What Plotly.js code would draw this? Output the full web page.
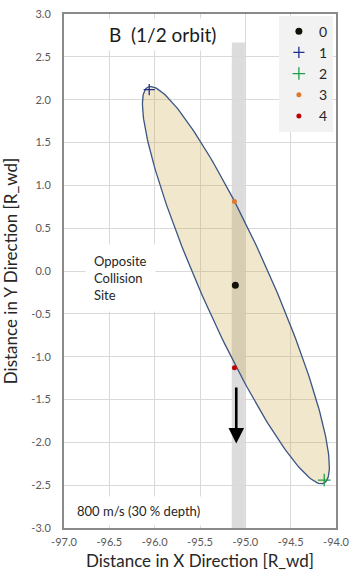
<!DOCTYPE html>
<html>
<head>
<meta charset="utf-8">
<script src="https://cdn.plot.ly/plotly-3.0.1.min.js"></script>
<style>html,body{margin:0;padding:0;background:#fff;}#chart{width:354px;height:585px;}</style>
</head>
<body>
<div id="chart"></div>
<script>
// ---- data ----
const pointNames = ['0', '1', '2', '3', '4'];
const pointX = [-95.11, -96.06, -94.13, -95.12, -95.12];
const pointY = [-0.165, 2.118, -2.44, 0.81, -1.13];
const pointColors = ['#141208', '#1f2f8f', '#1e9e4a', '#dd7a30', '#c00000'];
const pointSymbols = ['circle', 'cross-thin-open', 'cross-thin-open', 'circle', 'circle'];
const pointSizes = [7, 8, 9, 5, 5];

// dispersion ellipse (centre, semi-axes, orientation)
const ellipseCenter = [-95.104, -0.165];
const ellipseSemiAxes = [2.507, 0.389];
const ellipseAngleDeg = 112.67;

// collision band
const bandX = [-95.15, -95.005];
const bandY = [2.667, -3.0];

// arrow (tail -> tip)
const arrowX = [-95.10, -95.10];
const arrowY = [-1.343, -2.015];

const xTickVals = [-97.0, -96.5, -96.0, -95.5, -95.0, -94.5, -94.0];
const xTickText = ['-97.0', '-96.5', '-96.0', '-95.5', '-95.0', '-94.5', '-94.0'];
const yTickVals = [-3.0, -2.5, -2.0, -1.5, -1.0, -0.5, 0.0, 0.5, 1.0, 1.5, 2.0, 2.5, 3.0];
const yTickText = ['-3.0', '-2.5', '-2.0', '-1.5', '-1.0', '-0.5', '0.0', '0.5', '1.0', '1.5', '2.0', '2.5', '3.0'];

const titleText = 'B  (1/2 orbit)';
const noteSite = 'Opposite<br>Collision<br>Site';
const noteSpeed = '800 m/s (30 % depth)';
const xTitle = 'Distance in X Direction [R_wd]';
const yTitle = 'Distance in Y Direction [R_wd]';

// ---- build ellipse outline ----
const ex = [], ey = [];
const th = ellipseAngleDeg * Math.PI / 180;
for (let i = 0; i <= 240; i++) {
  const t = 2 * Math.PI * i / 240;
  const u = ellipseSemiAxes[0] * Math.cos(t), w = ellipseSemiAxes[1] * Math.sin(t);
  ex.push(ellipseCenter[0] + u * Math.cos(th) - w * Math.sin(th));
  ey.push(ellipseCenter[1] + u * Math.sin(th) + w * Math.cos(th));
}

const FONT = 'Lato, "Open Sans", sans-serif';

const traces = [{
  x: ex, y: ey, type: 'scatter', mode: 'lines', fill: 'toself',
  fillcolor: 'rgba(205,165,70,0.27)', line: {color: '#3b5584', width: 1.3},
  showlegend: false, hoverinfo: 'skip'
}];
for (let i = 0; i < pointNames.length; i++) {
  traces.push({
    x: [pointX[i]], y: [pointY[i]], type: 'scatter', mode: 'markers', name: pointNames[i],
    marker: {color: pointColors[i], symbol: pointSymbols[i], size: pointSizes[i],
             line: {color: pointColors[i], width: pointSymbols[i].indexOf('open') >= 0 ? 1.3 : 0}}
  });
}

const layout = {
  width: 354, height: 585,
  margin: {l: 64, r: 18, t: 14, b: 57},
  paper_bgcolor: '#ffffff', plot_bgcolor: '#ffffff',
  font: {family: FONT, color: '#595959'},
  showlegend: true,
  legend: {x: 0.79, y: 0.997, xanchor: 'left', yanchor: 'top', bgcolor: '#f2f2f2',
           font: {size: 14, color: '#262626', family: FONT}, itemwidth: 30, tracegroupgap: 0},
  xaxis: {range: [-97, -94], tickvals: xTickVals, ticktext: xTickText,
          showgrid: true, gridcolor: '#d9d9d9', gridwidth: 1, zeroline: false,
          showline: true, mirror: true, linecolor: '#8a8a8a', linewidth: 2, ticks: '',
          ticklabelstandoff: 3,
          tickfont: {size: 11, color: '#595959', family: FONT},
          title: {text: xTitle, font: {size: 17, color: '#262626', family: FONT}, standoff: 8}},
  yaxis: {range: [-3, 3], tickvals: yTickVals, ticktext: yTickText,
          showgrid: true, gridcolor: '#d9d9d9', gridwidth: 1, zeroline: false,
          showline: true, mirror: true, linecolor: '#8a8a8a', linewidth: 2, ticks: '',
          ticklabelstandoff: 9,
          tickfont: {size: 11, color: '#595959', family: FONT},
          title: {text: yTitle, font: {size: 17, color: '#262626', family: FONT}, standoff: 12}},
  shapes: [{type: 'rect', xref: 'x', yref: 'y', x0: bandX[0], x1: bandX[1], y0: bandY[1], y1: bandY[0],
            fillcolor: '#dcdcdc', line: {width: 0}, layer: 'below'}],
  annotations: [
    {xref: 'x', yref: 'y', x: -96.56, y: 2.765, xanchor: 'left', yanchor: 'middle', text: titleText,
     showarrow: false, bgcolor: '#ffffff', borderpad: 4, width: 118, align: 'left',
     font: {size: 19, color: '#1a1a1a', family: FONT}},
    {xref: 'x', yref: 'y', x: -96.77, y: -0.081, xanchor: 'left', yanchor: 'middle', text: noteSite,
     showarrow: false, bgcolor: '#ffffff', borderpad: 8, align: 'left',
     font: {size: 13, color: '#262626', family: FONT}},
    {xref: 'x', yref: 'y', x: -96.93, y: -2.804, xanchor: 'left', yanchor: 'middle', text: noteSpeed,
     showarrow: false, bgcolor: '#ffffff', borderpad: 6, align: 'left',
     font: {size: 13, color: '#262626', family: FONT}},
    {xref: 'x', yref: 'y', axref: 'x', ayref: 'y', x: arrowX[1], y: arrowY[1], ax: arrowX[0], ay: arrowY[0],
     text: '', showarrow: true, arrowhead: 2, arrowsize: 1.2, arrowwidth: 2.6, arrowcolor: '#000000', standoff: 0}
  ]
};

Plotly.newPlot('chart', traces, layout, {displayModeBar: false, staticPlot: true});
</script>
</body>
</html>
